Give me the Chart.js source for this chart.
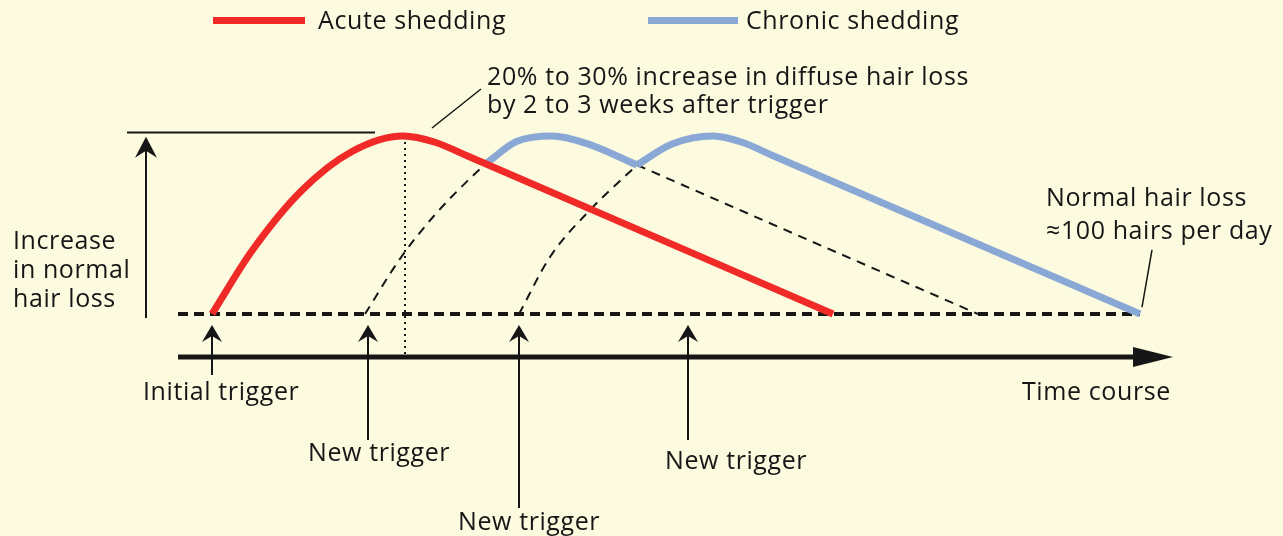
<!DOCTYPE html>
<html>
<head>
<meta charset="utf-8">
<script src="https://cdn.jsdelivr.net/npm/chart.js@4.4.1/dist/chart.umd.min.js"></script>
<style>
  body { margin: 0; background: #fcfadf; }
  canvas { display: block; }
</style>
</head>
<body>
<canvas id="chart" width="1283" height="536"></canvas>
<script>
// time in arbitrary units (initial trigger = 0), loss in % of peak above normal (normal = 0)
const acuteTime = [0, 4, 9, 14, 19.1, 22.3, 25.5, 62.1];
const acuteLoss = [0, 35.5, 69.5, 91.3, 100, 96.5, 88.9, 0];

const chronic1Time = [27.5, 30.5, 34, 37.5, 42.5];
const chronic1Loss = [85, 97, 100, 95.7, 83.7];
const chronic2Time = [42.5, 46, 50.1, 53, 56, 92.8];
const chronic2Loss = [83.7, 95.5, 100, 96.5, 89.2, 0];

// single-trigger episodes hidden under the chronic curve
const episode2RiseTime = [15.3, 18.8, 22.1, 25.5, 27.5];
const episode2RiseLoss = [0, 31, 54.5, 74.5, 85];
const episode2FallTime = [42.5, 59.5, 76.6];
const episode2FallLoss = [83.7, 41.9, 0];
const episode3RiseTime = [30.7, 33.8, 37.8, 42.5];
const episode3RiseLoss = [0, 32, 58.4, 83.7];

const normalTime = [-3.4, 92.8];
const normalLoss = [0, 0];

const triggerTimes = [0, 15.6, 30.7, 47.6];
const triggerLabels = ['Initial trigger', 'New trigger', 'New trigger', 'New trigger'];
const peakTime = 19.3;

const RED = '#f02a26';
const BLUE = '#8aa8d6';
const INK = '#161616';
const FONT = '"Open Sans", "Noto Sans", sans-serif';

function pts(xs, ys) {
    return xs.map((x, i) => ({ x: x, y: ys[i] }));
}

function arrowHead(ctx, x, y, angle, len, halfW, notch) {
    ctx.save();
    ctx.translate(x, y);
    ctx.rotate(angle);
    ctx.beginPath();
    ctx.moveTo(0, 0);
    ctx.lineTo(-len, -halfW);
    ctx.lineTo(-len + notch, 0);
    ctx.lineTo(-len, halfW);
    ctx.closePath();
    ctx.fill();
    ctx.restore();
}

function line(ctx, x1, y1, x2, y2, w, dash) {
    ctx.save();
    ctx.lineWidth = w;
    ctx.setLineDash(dash || []);
    ctx.beginPath();
    ctx.moveTo(x1, y1);
    ctx.lineTo(x2, y2);
    ctx.stroke();
    ctx.restore();
}

const diagramPlugin = {
    id: 'diagram',
    beforeDraw(chart) {
        const ctx = chart.ctx;
        ctx.save();
        ctx.fillStyle = '#fcfadf';
        ctx.fillRect(0, 0, chart.width, chart.height);
        ctx.restore();
    },
    beforeDatasetsDraw(chart) {
        const ctx = chart.ctx;
        const xs = chart.scales.x, ys = chart.scales.y;
        const X = v => xs.getPixelForValue(v);
        const Y = v => ys.getPixelForValue(v);
        ctx.save();
        ctx.strokeStyle = INK;
        ctx.fillStyle = INK;

        // time course axis
        const axisY = Y(-24.2);
        line(ctx, X(-3.4), axisY, X(92.4), axisY, 5);
        arrowHead(ctx, X(96.1), axisY, 0, 40, 10, 0);

        // vertical "increase" arrow and peak level line
        const tipY = Y(99.6);
        line(ctx, X(-6.6), Y(-2.2), X(-6.6), tipY + 12, 2);
        arrowHead(ctx, X(-6.6), tipY, -Math.PI / 2, 21, 11, 7);
        line(ctx, X(-8.5), Y(102), X(16.3), Y(102), 2);

        // dotted line at the peak
        line(ctx, X(peakTime), Y(100), X(peakTime), axisY, 2, [2, 4]);

        // trigger arrows
        const bottoms = [-34.3, -70.8, -109, -70.8];
        triggerTimes.forEach((t, i) => {
            const head = Y(-6.2);
            line(ctx, X(t), head + 8, X(t), Y(bottoms[i]), 2);
            arrowHead(ctx, X(t), head, -Math.PI / 2, 17, 10, 6);
        });

        // leader lines
        line(ctx, X(22), Y(104.5), X(26.9), Y(126.4), 1.5);
        line(ctx, X(94), Y(36), X(93), Y(3.9), 1.5);
        ctx.restore();
    },
    afterDraw(chart) {
        const ctx = chart.ctx;
        ctx.save();
        ctx.fillStyle = INK;
        ctx.font = '25px ' + FONT;
        ctx.letterSpacing = '0.6px';
        ctx.textBaseline = 'alphabetic';

        // legend
        ctx.fillStyle = RED;
        ctx.fillRect(213, 17, 92, 7);
        ctx.fillStyle = BLUE;
        ctx.fillRect(648, 17, 90, 7);
        ctx.fillStyle = INK;
        ctx.fillText('Acute shedding', 318, 29);
        ctx.fillText('Chronic shedding', 746, 29);

        ctx.fillText('20% to 30% increase in diffuse hair loss', 487, 85);
        ctx.fillText('by 2 to 3 weeks after trigger', 487, 113);

        ctx.fillText('Increase', 13, 249);
        ctx.fillText('in normal', 13, 278);
        ctx.fillText('hair loss', 13, 307);

        ctx.fillText('Normal hair loss', 1046, 206);
        ctx.fillText('\u2248100 hairs per day', 1046, 239);

        ctx.fillText('Time course', 1022, 400);

        const labelPos = [[143, 400], [308, 461], [458, 530], [665, 469]];
        triggerLabels.forEach((txt, i) => {
            ctx.fillText(txt, labelPos[i][0], labelPos[i][1]);
        });
        ctx.restore();
    }
};

const ctx = document.getElementById('chart').getContext('2d');
new Chart(ctx, {
    type: 'line',
    data: {
        datasets: [
            {
                label: 'Normal hair loss',
                data: pts(normalTime, normalLoss),
                borderColor: INK,
                borderWidth: 4,
                borderDash: [10, 6],
                order: 5
            },
            {
                label: 'Episode 2 rise',
                data: pts(episode2RiseTime, episode2RiseLoss),
                borderColor: INK,
                borderWidth: 2,
                borderDash: [9, 7],
                cubicInterpolationMode: 'monotone',
                order: 4
            },
            {
                label: 'Episode 2 fall',
                data: pts(episode2FallTime, episode2FallLoss),
                borderColor: INK,
                borderWidth: 2,
                borderDash: [9, 7],
                order: 4
            },
            {
                label: 'Episode 3 rise',
                data: pts(episode3RiseTime, episode3RiseLoss),
                borderColor: INK,
                borderWidth: 2,
                borderDash: [9, 7],
                cubicInterpolationMode: 'monotone',
                order: 4
            },
            {
                label: 'Chronic shedding',
                data: pts(chronic1Time, chronic1Loss),
                borderColor: BLUE,
                borderWidth: 7,
                cubicInterpolationMode: 'monotone',
                order: 2
            },
            {
                label: 'Chronic shedding 2',
                data: pts(chronic2Time, chronic2Loss),
                borderColor: BLUE,
                borderWidth: 7,
                cubicInterpolationMode: 'monotone',
                order: 2
            },
            {
                label: 'Acute shedding',
                data: pts(acuteTime, acuteLoss),
                borderColor: RED,
                borderWidth: 7,
                cubicInterpolationMode: 'monotone',
                order: 1
            }
        ]
    },
    options: {
        responsive: false,
        animation: false,
        devicePixelRatio: 1,
        layout: { padding: 0, autoPadding: false },
        elements: {
            point: { radius: 0, hoverRadius: 0 },
            line: { tension: 0, borderCapStyle: 'butt', borderJoinStyle: 'round', fill: false }
        },
        scales: {
            x: { type: 'linear', min: -21.2, max: 107.1, display: false },
            y: { type: 'linear', min: -124.72, max: 176.4, display: false }
        },
        plugins: {
            legend: { display: false },
            tooltip: { enabled: false }
        }
    },
    plugins: [diagramPlugin]
});
</script>
</body>
</html>
